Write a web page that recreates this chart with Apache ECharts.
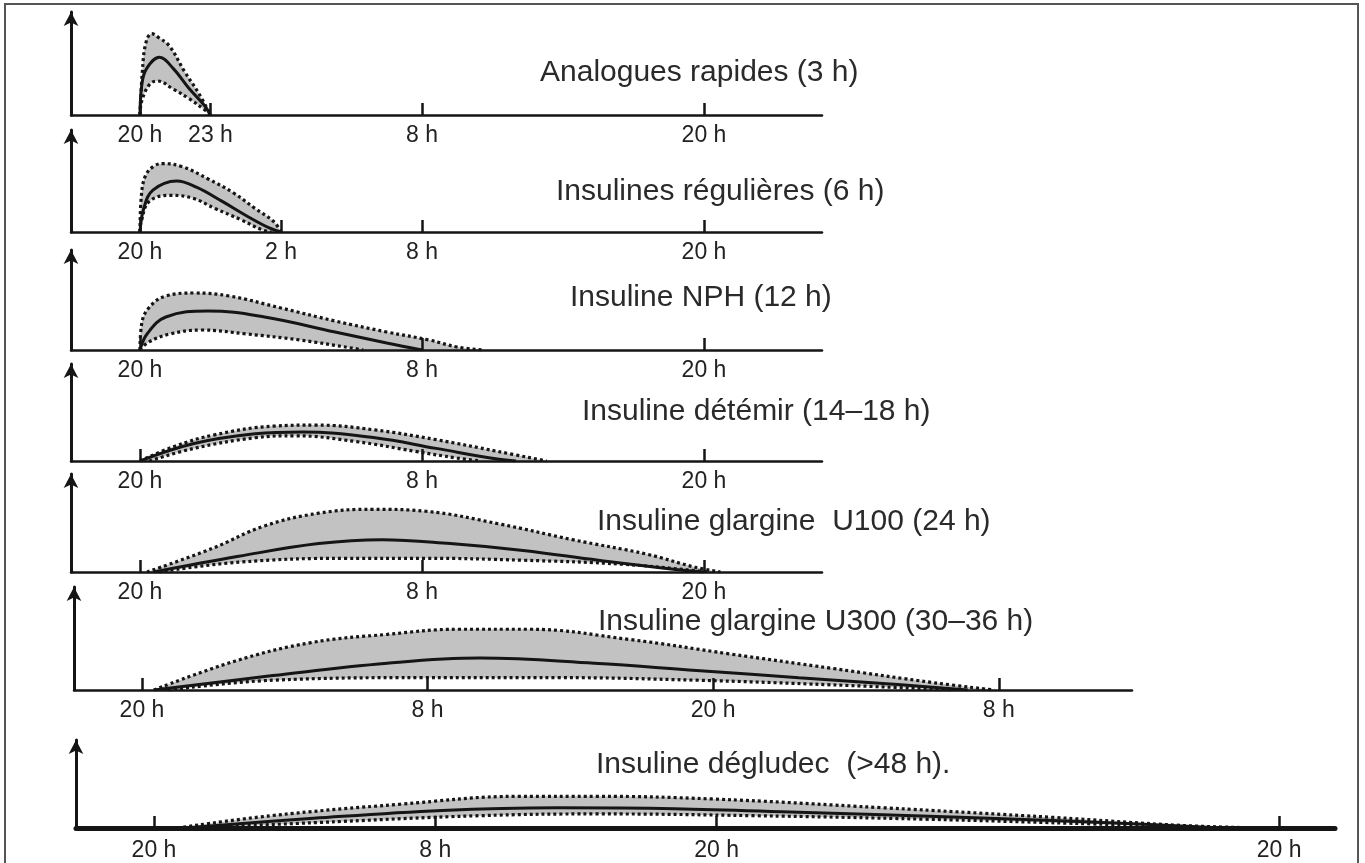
<!DOCTYPE html>
<html><head><meta charset="utf-8">
<script src="https://cdn.jsdelivr.net/npm/echarts@6/dist/echarts.min.js"></script>
<style>html,body{margin:0;padding:0;background:#fff}#c{width:1365px;height:863px}</style>
</head><body><div id="c"></div>
<script>
// ---------- DATA (time in hours after 20 h, activity in % of axis height) ----------
const panelTitles = [
  'Analogues rapides (3 h)',
  'Insulines régulières (6 h)',
  'Insuline NPH (12 h)',
  'Insuline détémir (14–18 h)',
  'Insuline glargine  U100 (24 h)',
  'Insuline glargine U300 (30–36 h)',
  'Insuline dégludec  (>48 h).'
];
const tickHours = [[0,3,12,24],[0,6,12,24],[0,12,24],[0,12,24],[0,12,24],[0,12,24,36],[0,12,24,48]];
const tickLabels = [
  ['20 h','23 h','8 h','20 h'],
  ['20 h','2 h','8 h','20 h'],
  ['20 h','8 h','20 h'],
  ['20 h','8 h','20 h'],
  ['20 h','8 h','20 h'],
  ['20 h','8 h','20 h','8 h'],
  ['20 h','8 h','20 h','20 h']
];
// rapid analogues
const upper1 = [[0,0],[0.1,42],[0.25,70],[0.5,79],[0.8,75],[1.25,67],[1.9,42],[2.5,21],[3,0]];
const mid1   = [[0,0],[0.08,30],[0.28,45],[0.83,56],[1.42,45],[2.08,26],[2.75,9],[3,0]];
const low1   = [[0,0],[0.08,14],[0.42,30],[0.75,33],[1.42,25],[2.08,16],[2.75,5],[3,0]];
// regular insulins
const upper2 = [[0,0],[0.05,33],[0.23,55],[0.62,65],[1.0,67],[1.8,64],[2.9,52],[4.0,38],[4.9,23],[5.7,10],[6,0]];
const mid2   = [[0,0],[0.16,23],[0.55,41],[1.56,50],[2.4,44],[3.5,30],[4.6,15],[5.5,4],[6,0]];
const low2   = [[0,0],[0.05,10],[0.4,30],[1.32,36],[2.26,33],[3.2,23],[4.3,12],[5.2,2],[5.6,0]];
// NPH
const upper3 = [[0,0],[0.07,26],[0.37,42],[1.1,54],[2.3,57],[3.8,54],[6.0,42],[8.3,29],[10.5,18],[12.3,10],[13.5,3],[14.6,0]];
const mid3   = [[0,0],[0.3,16],[1.1,33],[2.9,39],[5.3,33],[8.3,18],[10.5,7],[12,0]];
const low3   = [[0,0],[0.37,8],[1.27,16],[2.6,20],[4.55,16],[6.8,10],[9.0,2],[9.5,0]];
// detemir
const upper4 = [[0,0],[1.46,15],[3.17,27],[5.7,36],[7.5,37],[10,32],[12.6,22],[15.2,10],[17.3,0]];
const mid4   = [[0,0],[2.3,18],[4.9,28],[6.9,30],[10,24],[12.6,13],[15.2,2],[16,0]];
const low4   = [[0.4,0],[2.3,13],[4.9,24],[6.6,26],[9.2,20],[11.7,10],[13.5,3],[14.5,0]];
// glargine U100
const upper5 = [[0.3,0],[3.07,24],[5.3,47],[7.6,60],[9.9,64],[12.15,62],[15.3,49],[18.4,33],[21.6,18],[23.6,5],[24.7,0]];
const mid5   = [[0.6,0],[4.2,16],[7.6,29],[10.3,33],[13.2,29],[16.3,22],[19.5,12],[22.6,3],[24,0]];
const low5   = [[0.8,0],[4.2,10],[8.75,14],[12.15,14],[16.3,12],[20.5,8],[23.6,1.5],[24.2,0]];
// glargine U300
const upper6 = [[0.5,0],[3.9,28],[7.1,46],[10.3,54],[13.3,59],[16.2,59],[20.5,49],[24.7,35],[29,21],[33.3,7],[35.8,0]];
const mid6   = [[0.5,0],[5.5,14],[10.3,26],[14.2,31],[19,26],[23.3,19],[27.6,12],[31.9,5],[34.7,0]];
const low6   = [[1.1,0],[5.5,9.5],[11.8,12],[17.5,12],[23.3,9.5],[29,5],[34.1,0]];
// degludec
const upper7 = [[1,0],[5,14],[10.5,27],[15.6,36],[18.9,36],[23.8,33],[31.1,23],[38.4,12],[43.8,3],[47.1,0]];
const mid7   = [[1.3,0],[6.8,11],[12.3,20],[17.2,23],[22.2,22],[27.5,18],[34.7,12],[42,4.5],[45.6,0]];
const low7   = [[1.7,0],[6.8,6],[13.9,14],[18.9,16],[25.6,14],[32.9,10],[40.2,4.5],[45.6,0]];

const uppers = [upper1,upper2,upper3,upper4,upper5,upper6,upper7];
const mids   = [mid1,mid2,mid3,mid4,mid5,mid6,mid7];
const lows   = [low1,low2,low3,low4,low5,low6,low7];

// ---------- LAYOUT ----------
const layout = [
  {tip:9,   base:115, axisX:71, endX:822,  x0:140, pxh:23.5, tx:540, ty:73,  bw:2.5, lm:9},
  {tip:127, base:232, axisX:71, endX:822,  x0:140, pxh:23.5, tx:556, ty:192, bw:2.5, lm:9},
  {tip:247, base:350, axisX:71, endX:822,  x0:140, pxh:23.5, tx:570, ty:298, bw:2.5, lm:9},
  {tip:361, base:461, axisX:71, endX:822,  x0:140, pxh:23.5, tx:582, ty:412, bw:2.5, lm:9},
  {tip:471, base:572, axisX:71, endX:822,  x0:140, pxh:23.5, tx:597, ty:522, bw:2.5, lm:9},
  {tip:584, base:690, axisX:74, endX:1132, x0:142, pxh:23.8, tx:598, ty:622, bw:2.5, lm:9},
  {tip:737, base:828, axisX:76, endX:1335, x0:154, pxh:23.44, tx:596, ty:765, bw:5, lm:11}
];
const FONT = '"Liberation Sans", Arial, Helvetica, sans-serif';
const INK = '#151515';

const grids = [], xAxes = [], yAxes = [], series = [], graphics = [];
layout.forEach((L, i) => {
  const top = L.tip + 3;
  grids.push({left: L.axisX, top: top, width: L.endX - L.axisX, height: L.base - top, containLabel: false});
  const min = (L.axisX - L.x0) / L.pxh, max = (L.endX - L.x0) / L.pxh;
  xAxes.push({
    type: 'value', gridIndex: i, min: min, max: max, z: 10,
    splitLine: {show: false},
    axisLine: {onZero: false, lineStyle: {color: INK, width: L.bw}},
    axisTick: {show: true, inside: true, length: 12, customValues: tickHours[i], lineStyle: {color: INK, width: 2.5}},
    axisLabel: {customValues: tickHours[i], margin: L.lm, fontSize: 23, color: '#222', fontFamily: FONT,
      formatter: (v) => { const k = tickHours[i].indexOf(v); return k >= 0 ? tickLabels[i][k] : ''; }}
  });
  yAxes.push({
    type: 'value', gridIndex: i, min: 0, max: 100, z: 10,
    splitLine: {show: false}, axisTick: {show: false}, axisLabel: {show: false},
    axisLine: {show: true, onZero: false, symbol: ['none', 'arrow'], symbolSize: [11, 14], lineStyle: {color: INK, width: 3}}
  });
  const common = {type: 'line', xAxisIndex: i, yAxisIndex: i, showSymbol: false, symbol: 'none',
    smooth: 0.4, silent: true, animation: false};
  series.push(Object.assign({}, common, {
    data: uppers[i], lineStyle: {color: INK, width: 3.2, type: [3, 3]}, areaStyle: {color: '#c2c2c2', opacity: 1}}));
  series.push(Object.assign({}, common, {
    data: lows[i], lineStyle: {color: INK, width: 3.2, type: [3, 3]}, areaStyle: {color: '#ffffff', opacity: 1}}));
  series.push(Object.assign({}, common, {
    data: mids[i], lineStyle: {color: INK, width: 3}}));
  graphics.push({type: 'text', x: L.tx, y: L.ty, z: 20,
    style: {text: panelTitles[i], fontSize: 30, fontFamily: FONT, fill: '#2a2a2a', align: 'left', verticalAlign: 'middle'}});
});
graphics.push({type: 'rect', shape: {x: 5, y: 4, width: 1353, height: 900}, z: 30,
  style: {fill: 'none', stroke: '#555', lineWidth: 2}});

const chart = echarts.init(document.getElementById('c'), null, {renderer: 'canvas'});
chart.setOption({
  backgroundColor: '#fff', animation: false,
  grid: grids, xAxis: xAxes, yAxis: yAxes, series: series, graphic: graphics
});
</script></body></html>
